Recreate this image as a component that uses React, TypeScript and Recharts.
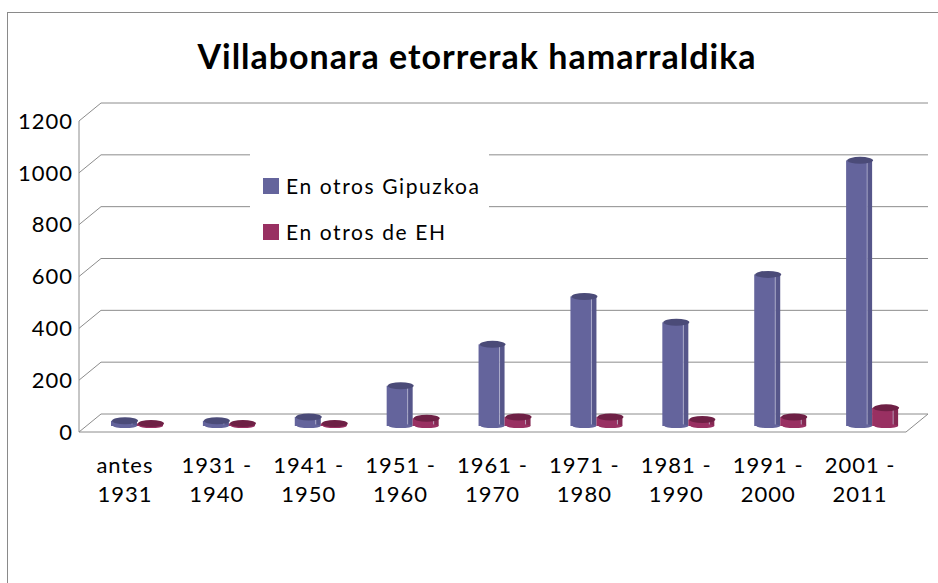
import React from "react";
import { BarChart, Bar, XAxis, YAxis, CartesianGrid, Legend } from "recharts";

const categories = [
  "antes\n1931",
  "1931 -\n1940",
  "1941 -\n1950",
  "1951 -\n1960",
  "1961 -\n1970",
  "1971 -\n1980",
  "1981 -\n1990",
  "1991 -\n2000",
  "2001 -\n2011",
];
const gipuzkoa = [20, 20, 35, 155, 315, 500, 400, 585, 1025];
const euskadi = [10, 10, 10, 30, 35, 35, 25, 35, 70];
const yTicks = [0, 200, 400, 600, 800, 1000, 1200];

const SERIES = [
  { key: "gipuzkoa", name: "En otros Gipuzkoa", front: "#64649C", side: "#56568A", top: "#4B4B78" },
  { key: "euskadi", name: "En otros de EH", front: "#993062", side: "#832852", top: "#6E2045" },
];

const data = categories.map((c, i) => ({ cat: c, gipuzkoa: gipuzkoa[i], euskadi: euskadi[i] }));

const FONT = "Lato, 'Open Sans', sans-serif";
const DEPTH_X = 22;
const DEPTH_Y = 18;
const FLOOR_Y = 432;

// pseudo-3D column: bars sit a third of the way into the depth
function Column(props: any) {
  const { x, y, width, height, colors } = props;
  const dx = 12;
  const dy = -6;
  const x0 = x + dx;
  const top = y + dy;
  const bottom = y + height + dy;
  const w = width;
  const side = 5;
  const ry = 3.5;
  return (
    <g>
      <rect x={x0} y={top} width={w - side} height={Math.max(bottom - top, 0)} fill={colors.front} />
      <rect x={x0 + w - side} y={top} width={side} height={Math.max(bottom - top, 0)} fill={colors.side} />
      <line x1={x0 + w - side} y1={top + 2} x2={x0 + w - side} y2={bottom} stroke="#c8c8e0" strokeOpacity={0.6} strokeWidth={1} />
      <ellipse cx={x0 + w / 2 + 1} cy={bottom} rx={w / 2 - 1} ry={ry * 0.6} fill={colors.front} />
      <ellipse cx={x0 + w / 2 + 1} cy={top} rx={w / 2} ry={ry} fill={colors.top} />
    </g>
  );
}

function GridLine(props: any) {
  const { x1, y1, x2 } = props;
  let pts = `${x1},${y1} ${x1 + DEPTH_X},${y1 - DEPTH_Y} ${x2 + DEPTH_X},${y1 - DEPTH_Y}`;
  if (Math.abs(y1 - FLOOR_Y) < 1) pts += ` ${x2},${y1}`;
  return <polyline key={props.key} points={pts} fill="none" stroke="#8c8c8c" strokeWidth={1} />;
}

function CatTick(props: any) {
  const { x, y, payload } = props;
  const lines = String(payload.value).split("\n");
  return (
    <text x={x} y={y} textAnchor="middle" fontFamily={FONT} fontSize={22} fill="#000" letterSpacing={1}>
      {lines.map((l, i) => (
        <tspan key={i} x={x} dy={i === 0 ? 33 : 29}>
          {l}
        </tspan>
      ))}
    </text>
  );
}

function LegendBox() {
  return (
    <div style={{ position: "relative", background: "#fff", width: 239, height: 104, fontFamily: FONT, fontSize: 21, letterSpacing: 1.6 }}>
      {SERIES.map((s, i) => (
        <div key={s.key} style={{ position: "absolute", left: 13, top: 23 + i * 46, display: "flex", alignItems: "center" }}>
          <span style={{ display: "inline-block", width: 16, height: 16, background: s.front, marginRight: 7 }} />
          <span style={{ lineHeight: "20px" }}>{s.name}</span>
        </div>
      ))}
    </div>
  );
}

export default function App() {
  return (
    <div style={{ position: "absolute", left: 0, top: 0, width: 938, height: 583, background: "#fff", overflow: "hidden" }}>
      <div
        style={{
          position: "absolute",
          left: 7,
          top: 12,
          width: 931,
          height: 571,
          borderLeft: "1px solid #8a8a8a",
          borderTop: "1px solid #8a8a8a",
          boxSizing: "border-box",
        }}
      />
      <div
        style={{
          position: "absolute",
          left: 0,
          top: 35,
          width: 954,
          textAlign: "center",
          fontFamily: FONT,
          fontWeight: 700,
          fontSize: 34,
          letterSpacing: 1,
          color: "#000",
        }}
      >
        Villabonara etorrerak hamarraldika
      </div>
      <div style={{ position: "absolute", left: 0, top: 0 }}>
        <BarChart
          width={938}
          height={583}
          data={data}
          margin={{ top: 121, right: 32, bottom: 91, left: 0 }}
          barGap={0}
          barSize={26}
        >
          <CartesianGrid vertical={false} horizontal={(p: any) => <GridLine {...p} />} />
          <XAxis
            dataKey="cat"
            interval={0}
            tickLine={false}
            axisLine={{ stroke: "#8c8c8c" }}
            tick={<CatTick />}
            height={60}
          />
          <YAxis
            domain={[0, 1200]}
            ticks={yTicks}
            width={79}
            tickLine={false}
            tickSize={0}
            tickMargin={6}
            axisLine={{ stroke: "#8c8c8c" }}
            tick={{ fontFamily: FONT, fontSize: 22, fill: "#000", letterSpacing: 1 }}
          />
          <Legend
            layout="vertical"
            verticalAlign="middle"
            align="center"
            wrapperStyle={{ position: "absolute", left: 250, top: 153, width: 239, height: 104 }}
            content={() => <LegendBox />}
          />
          {SERIES.map((s) => (
            <Bar
              key={s.key}
              dataKey={s.key}
              name={s.name}
              fill={s.front}
              isAnimationActive={false}
              shape={(p: any) => <Column {...p} colors={s} />}
            />
          ))}
        </BarChart>
      </div>
    </div>
  );
}
